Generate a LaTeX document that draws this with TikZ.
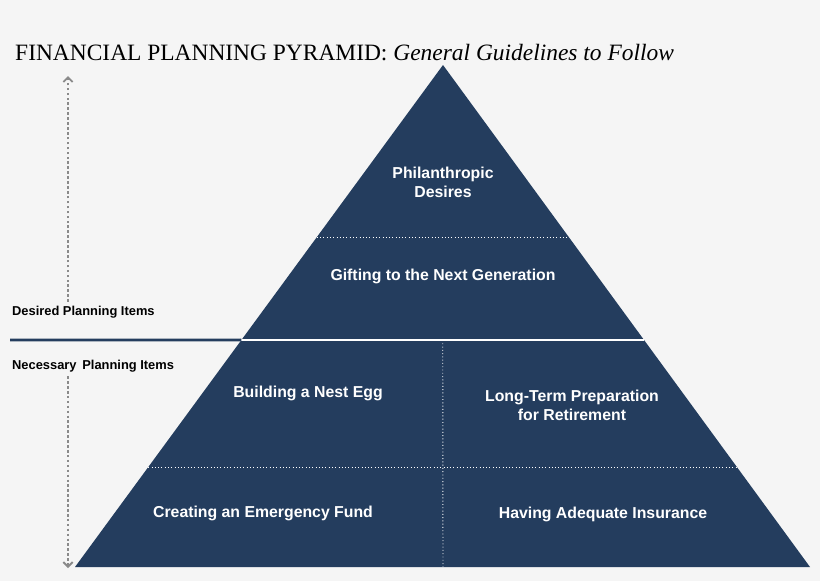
\documentclass[tikz,border=0pt]{standalone}
\usepackage{fontspec}
\setmainfont{Liberation Serif}
\setsansfont{Liberation Sans}
\usetikzlibrary{calc,arrows.meta}
\definecolor{PyrClr}{HTML}{243D5E}
\definecolor{BackClr}{HTML}{F5F5F5}
\definecolor{ArrowClr}{HTML}{8A8A8A}
\tikzset{
  tier/.style={text=white,font=\sffamily\bfseries\fontsize{13.5}{16}\selectfont,align=center},
  side/.style={text=black,font=\sffamily\bfseries\fontsize{11}{13}\selectfont,anchor=west},
  divider/.style={white,line width=0.8pt,dotted}
}
\begin{document}
\begin{tikzpicture}[x=0.03cm,y=-0.03cm]
\fill[BackClr] (0,0) rectangle (820,581);
\useasboundingbox (0,0) rectangle (820,581);

\coordinate (apex) at (443,65);
\coordinate (bl) at (75,567);
\coordinate (br) at (810,567);
\coordinate (mb) at (443,567);

\fill[PyrClr] (apex) -- (bl) -- (br) -- cycle;

\coordinate (L1) at ($(apex)!0.3426!(bl)$);
\coordinate (R1) at ($(apex)!0.3426!(br)$);
\coordinate (L2) at ($(apex)!0.5478!(bl)$);
\coordinate (R2) at ($(apex)!0.5478!(br)$);
\coordinate (L3) at ($(apex)!0.8008!(bl)$);
\coordinate (R3) at ($(apex)!0.8008!(br)$);
\coordinate (mt) at ($(L2)!0.5!(R2)$);
\coordinate (edge) at (10,340);

\draw[divider] (L1) -- (R1);
\draw[divider] (L3) -- (R3);
\draw[divider] (mt) -- (mb);
\draw[white,line width=2pt] (L2) -- (R2);
\draw[PyrClr,line width=2.5pt] (edge) -- (L2);

% title
\node[anchor=base west,inner sep=0pt,font=\fontsize{20}{24}\selectfont] (title) at (15,60)
  {FINANCIAL PLANNING PYRAMID: \textit{General Guidelines to Follow}};

% tiers
\node[tier] (philan) at (443,182) {Philanthropic\\Desires};
\node[tier] (gift) at (443,276) {Gifting to the Next Generation};
\node[tier] (nest) at (308,393) {Building a Nest Egg};
\node[tier] (retire) at (572,405) {Long-Term Preparation\\for Retirement};
\node[tier] (fund) at (263,513) {Creating an Emergency Fund};
\node[tier] (insur) at (603,514) {Having Adequate Insurance};

% side labels
\node[side] (desired) at (8,312) {Desired Planning Items};
\node[side] (necess) at (8,366) {Necessary\, Planning Items};

\coordinate (atop) at (68,76);
\coordinate (abot) at (68,568);
\draw[ArrowClr,line width=2.2pt,dotted,-{Straight Barb[length=4pt,width=8pt,line width=1.6pt]}] (desired.north -| atop) -- (atop);
\draw[ArrowClr,line width=2.2pt,dotted,-{Straight Barb[length=4pt,width=8pt,line width=1.6pt]}] (necess.south -| abot) -- (abot);
\end{tikzpicture}
\end{document}
